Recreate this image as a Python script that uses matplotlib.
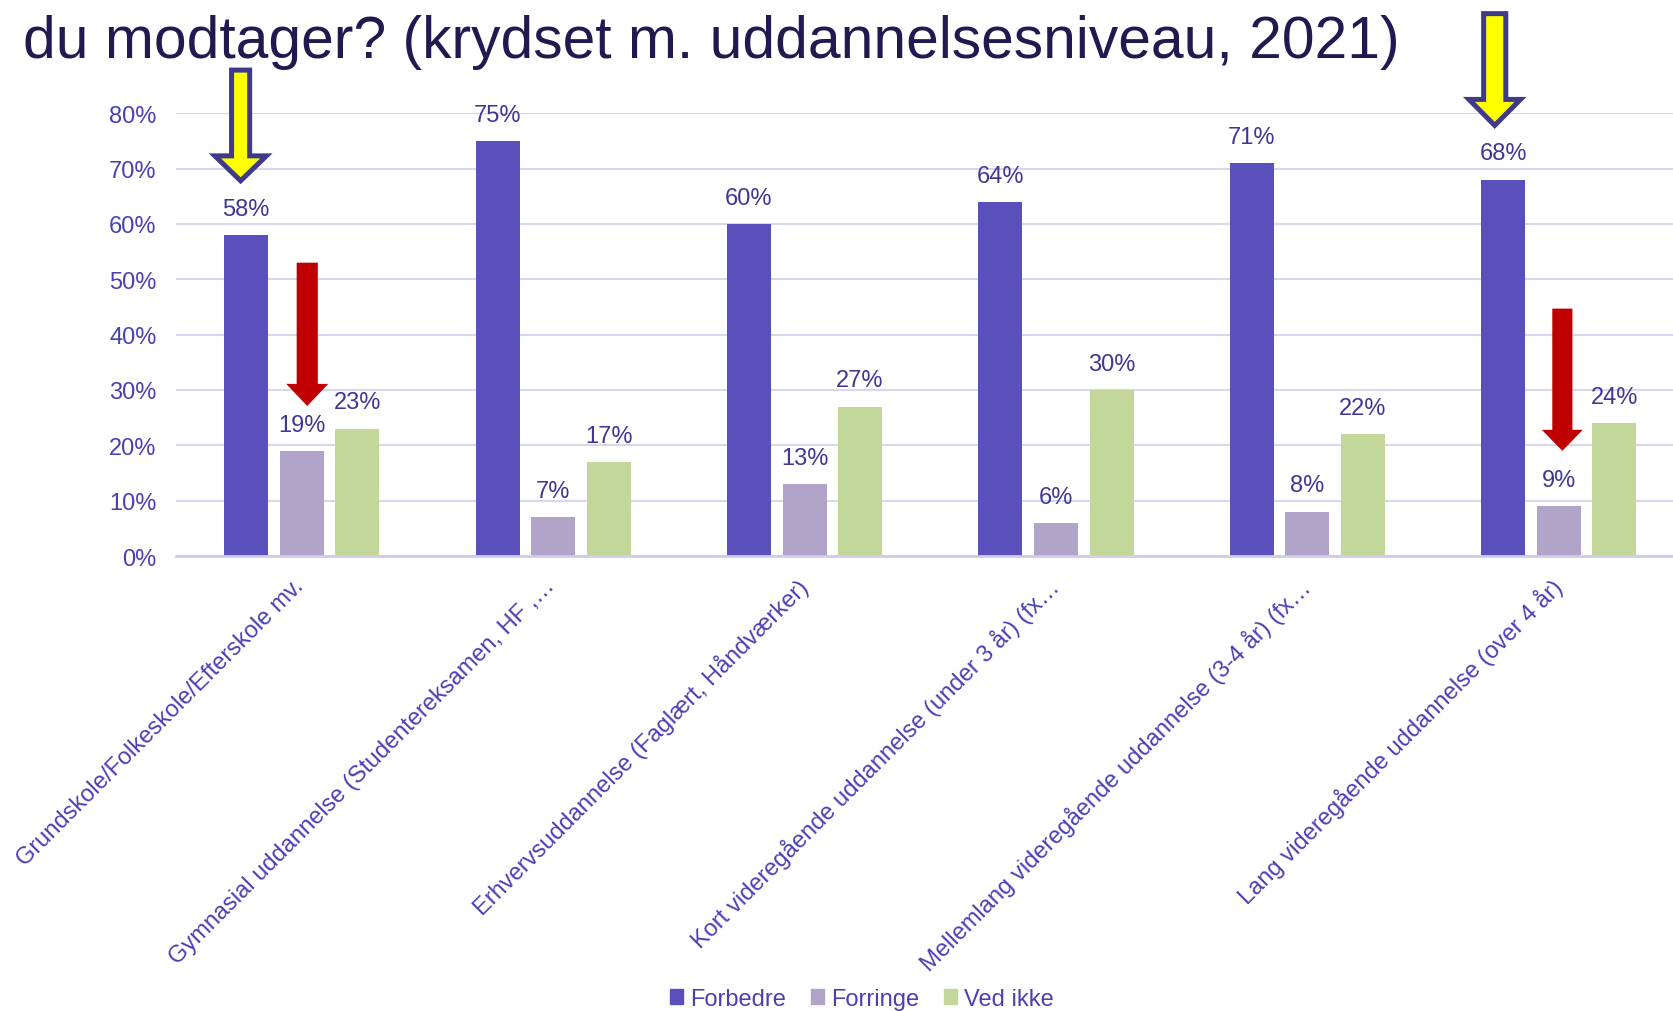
import matplotlib.pyplot as plt
import matplotlib.transforms as mtransforms
from matplotlib.patches import Polygon, Patch

# ==========================
# Data
# ==========================
categories = [
    'Grundskole/Folkeskole/Efterskole mv.',
    'Gymnasial uddannelse (Studentereksamen, HF ,…',
    'Erhvervsuddannelse (Faglært, Håndværker)',
    'Kort videregående uddannelse (under 3 år) (fx…',
    'Mellemlang videregående uddannelse (3-4 år) (fx…',
    'Lang videregående uddannelse (over 4 år)',
]
series_names = ['Forbedre', 'Forringe', 'Ved ikke']
forbedre = [58, 75, 60, 64, 71, 68]
forringe = [19, 7, 13, 6, 8, 9]
ved_ikke = [23, 17, 27, 30, 22, 24]
y_ticks = [0, 10, 20, 30, 40, 50, 60, 70, 80]

title = 'du modtager? (krydset m. uddannelsesniveau, 2021)'

# ==========================
# Style
# ==========================
plt.rcParams['font.family'] = ['Liberation Sans', 'DejaVu Sans']
colors = ['#5A50BC', '#B2A3C8', '#C4D79B']
text_color = '#4A40B4'
label_color = '#3F3796'
grid_color = '#D9D6F0'

fig = plt.figure(figsize=(16.73, 10.12), dpi=100)
ax = fig.add_axes([0.1052, 0.4496, 0.9017, 0.4375])

bar_w = 0.175
step = 0.221
x = list(range(len(categories)))
for k, (vals, col) in enumerate(zip([forbedre, forringe, ved_ikke], colors)):
    xs = [i + (k - 1) * step for i in x]
    ax.bar(xs, vals, width=bar_w, color=col, zorder=2)
    for xi, v in zip(xs, vals):
        ax.annotate(f'{v}%', (xi, v), xytext=(0, 11), textcoords='offset points',
                    ha='center', va='bottom', fontsize=17, color=label_color,
                    annotation_clip=False)

ax.set_xlim(-0.5, 5.5)
ax.set_ylim(0, 80)
ax.set_yticks(y_ticks)
ax.set_yticklabels([f'{t}%' for t in y_ticks])
ax.yaxis.grid(True, color=grid_color, linewidth=1.5, zorder=0)
ax.set_axisbelow(True)
for s in ['top', 'right', 'left']:
    ax.spines[s].set_visible(False)
ax.spines['bottom'].set_color('#D0CCEC')
ax.spines['bottom'].set_linewidth(2)
ax.tick_params(axis='y', length=0, pad=14, labelsize=17, labelcolor=text_color)
ax.tick_params(axis='x', length=0, pad=13, labelsize=17, labelcolor=text_color)
ax.set_xticks(x)
ax.set_xticklabels(categories, rotation=45, ha='right', va='top',
                   rotation_mode='anchor')
# skub etiketterne lidt til venstre
skub = mtransforms.ScaledTranslation(-0.09, 0, fig.dpi_scale_trans)
for lbl in ax.get_xticklabels():
    lbl.set_transform(lbl.get_transform() + skub)


# ==========================
# Pilene
# ==========================
def pil(xc, top, head, tip, sw, hw, face, edge=None, lw=0):
    pts = [(xc - sw / 2, top), (xc + sw / 2, top), (xc + sw / 2, head),
           (xc + hw / 2, head), (xc, tip), (xc - hw / 2, head),
           (xc - sw / 2, head)]
    p = Polygon(pts, closed=True, facecolor=face,
                edgecolor=edge if edge else face, linewidth=lw,
                joinstyle='miter', clip_on=False, zorder=5)
    ax.add_patch(p)


pil(-0.243, 87.8, 72.3, 67.8, 0.072, 0.205, '#FFFF00', '#3F3A8A', 3.6)
pil(4.745, 98.0, 82.5, 77.8, 0.088, 0.205, '#FFFF00', '#3F3A8A', 3.6)
pil(0.022, 53.0, 31.1, 27.1, 0.084, 0.167, '#C00000')
pil(5.014, 44.7, 22.8, 19.0, 0.080, 0.163, '#C00000')

# Titel
fig.text(0.014, 0.9427, title, fontsize=42.3, color='#201A50', va='baseline')

# Legende
handles = [Patch(color=c) for c in colors]
fig.legend(handles, series_names, loc='center', bbox_to_anchor=(0.515, 0.012),
           ncol=3, frameon=False, fontsize=17, labelcolor=text_color,
           handlelength=0.55, handleheight=0.55, handletextpad=0.3,
           columnspacing=1.05)

plt.savefig('out.png', dpi=100)
